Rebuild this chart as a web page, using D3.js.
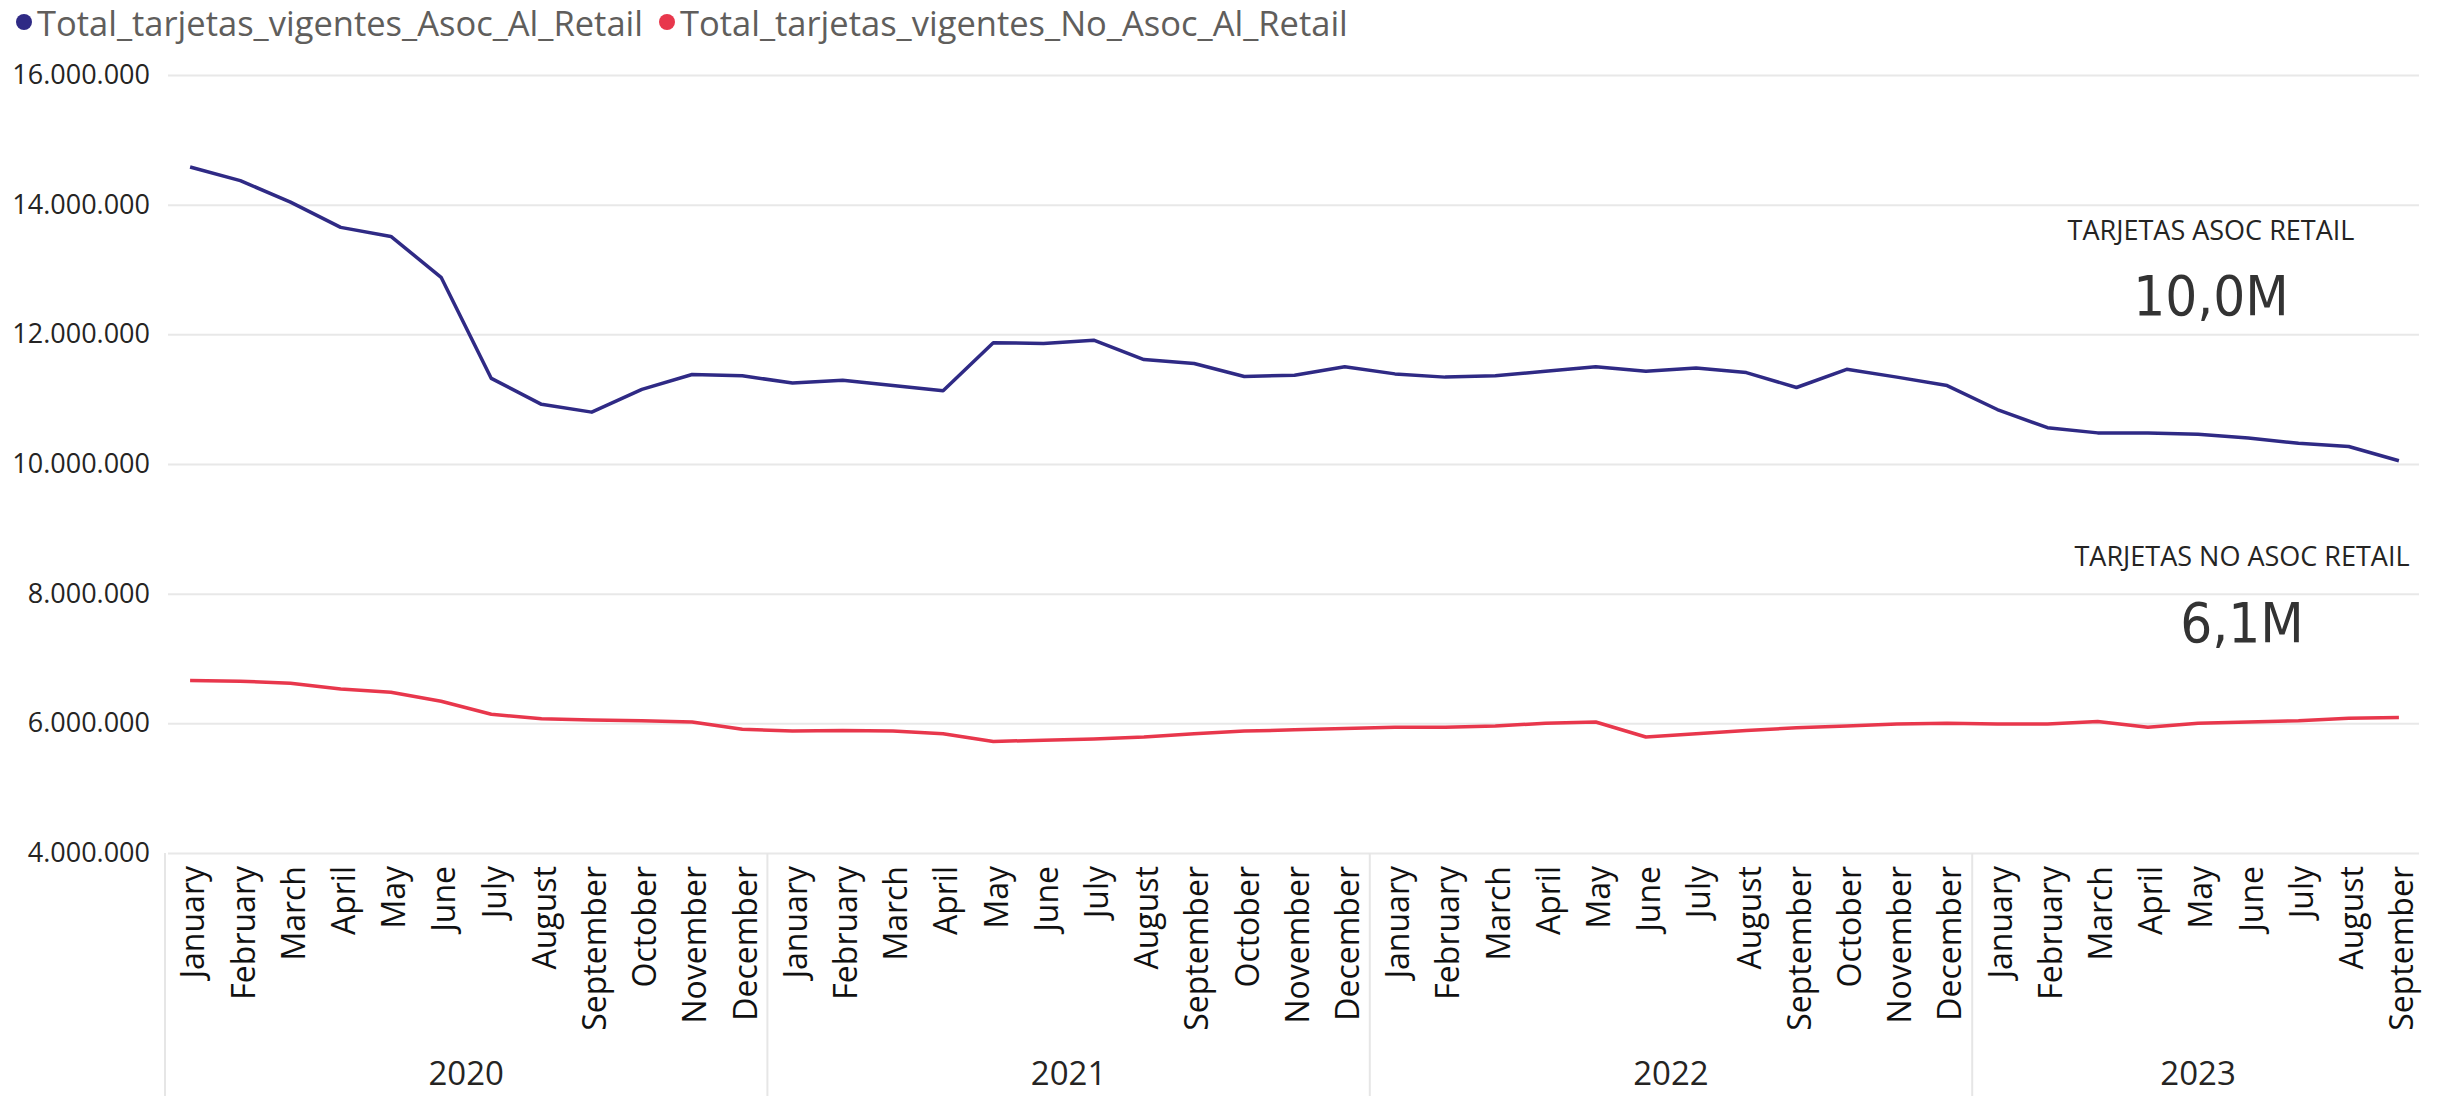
<!DOCTYPE html>
<html>
<head>
<meta charset="utf-8">
<script src="https://cdn.jsdelivr.net/npm/d3@7"></script>
<style>
  body { margin: 0; background: #fff; }
  text { font-family: "Segoe UI", "Open Sans", sans-serif; }
</style>
</head>
<body>
<div id="chart"></div>
<script>
// months shown on the axis, grouped by year
const years = ["2020", "2021", "2022", "2023"];
const monthNames = ["January", "February", "March", "April", "May", "June", "July",
    "August", "September", "October", "November", "December"];
const monthsPerYear = [12, 12, 12, 9];

// values (cards)
const asocRetail = [
    14580000, 14370000, 14040000, 13650000, 13510000, 12880000, 11320000, 10920000, 10800000, 11150000, 11380000, 11360000,
    11250000, 11290000, 11210000, 11130000, 11870000, 11860000, 11910000, 11610000, 11550000, 11350000, 11370000, 11500000,
    11390000, 11340000, 11360000, 11430000, 11500000, 11430000, 11480000, 11410000, 11180000, 11460000, 11340000, 11210000,
    10840000, 10560000, 10480000, 10480000, 10460000, 10400000, 10320000, 10270000, 10050000
];
const noAsocRetail = [
    6660000, 6650000, 6620000, 6530000, 6480000, 6340000, 6140000, 6070000, 6050000, 6040000, 6020000, 5910000,
    5880000, 5890000, 5880000, 5840000, 5720000, 5740000, 5760000, 5790000, 5840000, 5880000, 5900000, 5920000,
    5940000, 5940000, 5960000, 6000000, 6020000, 5790000, 5840000, 5890000, 5930000, 5960000, 5990000, 6000000,
    5990000, 5990000, 6030000, 5940000, 6000000, 6020000, 6040000, 6080000, 6090000
];
const seriesNames = ["Total_tarjetas_vigentes_Asoc_Al_Retail", "Total_tarjetas_vigentes_No_Asoc_Al_Retail"];
const seriesColors = ["#2f2a85", "#e8374c"];
const yTicks = [4000000, 6000000, 8000000, 10000000, 12000000, 14000000, 16000000];
const cardTitles = ["TARJETAS ASOC RETAIL", "TARJETAS NO ASOC RETAIL"];
const cardValues = ["10,0M", "6,1M"];

const width = 2445, height = 1096;

// flat list of month slots
let slots = [];
years.forEach(function(yr, yi) {
    for (let m = 0; m < monthsPerYear[yi]; m++) {
        slots.push({ key: yr + "-" + m, year: yr, month: monthNames[m] });
    }
});

let svg = d3.select("#chart")
    .append("svg")
    .attr("width", width)
    .attr("height", height);

let x = d3.scaleBand()
    .domain(slots.map(function(d) { return d.key; }))
    .range([165, 2424]);

let y = d3.scaleLinear()
    .domain([4000000, 16000000])
    .range([853, 75]);

const esLocale = d3.formatLocale({ decimal: ",", thousands: ".", grouping: [3], currency: ["", ""] });
const fmt = esLocale.format(",");

// gridlines + y labels
let yAxis = svg.append("g")
    .attr("transform", "translate(168,0)")
    .call(d3.axisLeft(y).tickValues(yTicks).tickFormat(fmt).tickSize(-(2419 - 168)).tickPadding(18));
yAxis.select(".domain").remove();
yAxis.selectAll(".tick line").attr("stroke", "#e8e8e8").attr("stroke-width", 2);
yAxis.selectAll(".tick text")
    .attr("fill", "#252423")
    .style("font-size", "27px")
    .style("font-family", "'Segoe UI', 'Open Sans', sans-serif");

// month labels (rotated)
let xAxis = svg.append("g")
    .attr("transform", "translate(0,853)")
    .call(d3.axisBottom(x).tickSize(0).tickFormat(function(k) {
        return slots.find(function(s) { return s.key === k; }).month;
    }));
xAxis.select(".domain").remove();
xAxis.selectAll(".tick text")
    .attr("transform", "rotate(-90)")
    .attr("x", -13)
    .attr("y", 3)
    .attr("dy", "0.35em")
    .style("text-anchor", "end")
    .style("font-size", "32px")
    .style("font-family", "'Segoe UI', 'Open Sans', sans-serif")
    .attr("fill", "#111");

// year separators and labels
let start = 0;
years.forEach(function(yr, yi) {
    let first = slots[start].key;
    let last = slots[start + monthsPerYear[yi] - 1].key;
    let x0 = x(first), x1 = x(last) + x.bandwidth();
    svg.append("line")
        .attr("x1", x0).attr("x2", x0)
        .attr("y1", 853).attr("y2", height)
        .attr("stroke", "#e6e6e6").attr("stroke-width", 2);
    svg.append("text")
        .attr("x", (x0 + x1) / 2)
        .attr("y", 1085)
        .attr("text-anchor", "middle")
        .attr("fill", "#252423")
        .style("font-size", "33px")
        .text(yr);
    start += monthsPerYear[yi];
});

// lines
let line = d3.line()
    .x(function(d, i) { return x(slots[i].key) + x.bandwidth() / 2; })
    .y(function(d) { return y(d); });

[asocRetail, noAsocRetail].forEach(function(vals, i) {
    svg.append("path")
        .datum(vals)
        .attr("fill", "none")
        .attr("stroke", seriesColors[i])
        .attr("stroke-width", 3.5)
        .attr("stroke-linejoin", "round")
        .attr("d", line);
});

// legend
let legendX = [24, 667];
seriesNames.forEach(function(name, i) {
    svg.append("circle")
        .attr("cx", legendX[i])
        .attr("cy", 22)
        .attr("r", 8)
        .attr("fill", seriesColors[i]);
    svg.append("text")
        .attr("x", legendX[i] + 13)
        .attr("y", 36)
        .attr("fill", "#605e5c")
        .style("font-size", "34.5px")
        .text(name);
});

// cards
let cardTitleX = [2211, 2242], cardTitleY = [240, 566];
let cardValueY = [315, 642];
cardTitles.forEach(function(t, i) {
    svg.append("text")
        .attr("x", cardTitleX[i])
        .attr("y", cardTitleY[i])
        .attr("text-anchor", "middle")
        .attr("fill", "#252423")
        .style("font-size", "27px")
        .text(t);
    svg.append("text")
        .attr("x", cardTitleX[i])
        .attr("y", cardValueY[i])
        .attr("text-anchor", "middle")
        .attr("fill", "#333333")
        .style("font-family", "'DIN', 'Liberation Sans Narrow', 'DejaVu Sans Condensed', sans-serif")
        .style("font-size", "56px")
        .text(cardValues[i]);
});
</script>
</body>
</html>
